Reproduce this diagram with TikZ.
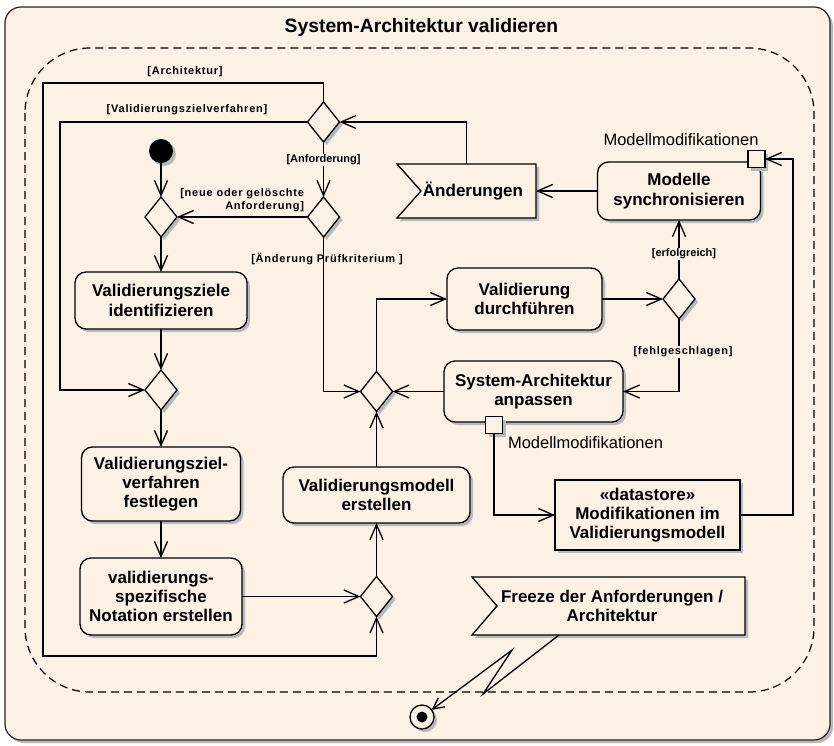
\documentclass[tikz,border=0pt]{standalone}
\usepackage{fontspec}
\setmainfont{Liberation Sans}
\usetikzlibrary{shapes.geometric,arrows.meta,shadows,calc}
\definecolor{bgc}{RGB}{251,241,228}
\definecolor{shadowgray}{RGB}{185,185,185}
\begin{document}
\begin{tikzpicture}[x=1pt,y=-1pt,
  every node/.style={inner sep=0pt,outer sep=0pt},
  shd/.style={drop shadow={shadow xshift=3pt,shadow yshift=-3pt,fill=shadowgray,opacity=1}},
  ln/.style={line width=1.3pt,draw=black},
  flow/.style={ln,-{Straight Barb[length=15pt,width=13pt,line width=1.3pt]}},
  boldtext/.style={font=\fontsize{17}{19.3}\selectfont\bfseries,align=center},
  action/.style={ln,fill=bgc,rounded corners=11pt,shd,boldtext},
  decision/.style={ln,fill=bgc,diamond,minimum width=32pt,minimum height=40pt,shd},
  guard/.style={font=\fontsize{11}{13.5}\selectfont\bfseries,fill=bgc,inner sep=1pt},
  guardsp/.style={font=\fontsize{11}{13.5}\selectfont\bfseries\addfontfeatures{LetterSpace=7},fill=bgc,inner sep=1pt},
  pinbox/.style={ln,fill=bgc,minimum size=17pt,shd},
  pinlabel/.style={font=\fontsize{16.5}{19}\selectfont},
]
\useasboundingbox (0,0) rectangle (834,745);

% activity frame and interruptible region
\draw[line width=1.2pt,draw=black!85,fill=bgc,rounded corners=16pt,shd] (5,7) rectangle (830,740);
\node[font=\fontsize{19.3}{22}\selectfont\bfseries] (title) at (421.5,28) {System-Architektur validieren};
\draw[line width=1.2pt,dash pattern=on 8pt off 5pt,rounded corners=65pt] (25,48) rectangle (814,692);

% initial and final nodes
\node[circle,fill=black,minimum size=24pt,shd] (init) at (161,151) {};
\node[circle,ln,fill=bgc,minimum size=24pt,shd] (fin) at (422,717) {};
\fill (fin.center) circle (5.5pt);

% decisions / merges
\node[decision] (d1) at (161,217) {};
\node[decision] (d2) at (323.5,217) {};
\node[decision] (d3) at (323.5,122) {};
\node[decision] (d4) at (161,390) {};
\node[decision] (d5) at (376.5,391.5) {};
\node[decision] (d6) at (679,299) {};
\node[decision] (d7) at (376.5,596.5) {};

% actions
\node[action,minimum width=172pt,minimum height=57pt] (a1) at (161,300.5) {Validierungsziele\\identifizieren};
\node[action,minimum width=159pt,minimum height=74pt] (a2) at (161,484) {Validierungsziel-\\verfahren\\festlegen};
\node[action,minimum width=162pt,minimum height=77pt] (a3) at (161,596.5) {validierungs-\\spezifische\\Notation erstellen};
\node[action,minimum width=187pt,minimum height=56pt] (a4) at (376.5,495) {Validierungsmodell\\erstellen};
\node[action,minimum width=155pt,minimum height=62pt] (a5) at (524.5,299) {Validierung\\durchführen};
\node[action,minimum width=163pt,minimum height=58pt] (a6) at (679,191) {Modelle\\synchronisieren};
\node[action,minimum width=179pt,minimum height=61pt] (a7) at (533.5,391.5) {System-Architektur\\anpassen};

% pins
\node[pinbox] (pin1) at (756.5,159) {};
\node[pinbox] (pin2) at (494,425) {};
\node[pinlabel] (pl1) at (681,140) {Modellmodifikationen};
\node[pinlabel,anchor=west] (pl2) at (508,443) {Modellmodifikationen};

% data store
\node[ln,fill=bgc,shd,boldtext,minimum width=185pt,minimum height=70pt] (ds) at (647.5,515)
  {«datastore»\\Modifikationen im\\Validierungsmodell};

% accept event: Änderungen
\node[minimum width=139pt,minimum height=54pt] (chg) at (466.5,191) {};
\filldraw[ln,fill=bgc,shd] (chg.north west) -- (chg.north east) -- (chg.south east)
  -- (chg.south west) -- ($(chg.west)+(24,0)$) -- cycle;
\node[boldtext] (chgtxt) at (473,191) {Änderungen};

% accept event: Freeze
\node[minimum width=273pt,minimum height=58pt] (frz) at (608.5,606) {};
\filldraw[ln,fill=bgc,shd] (frz.north west) -- (frz.north east) -- (frz.south east)
  -- (frz.south west) -- ($(frz.west)+(25,0)$) -- cycle;
\node[boldtext] (frztxt) at (612,606) {Freeze der Anforderungen /\\Architektur};

% helper points for routed flows
\coordinate (vz) at (60,122);
\coordinate (arT) at (43,83);
\coordinate (arB) at (43,656);
\coordinate (dsR) at (793,515);
\coordinate (lz0) at (559,635);
\coordinate (lz1) at (483,694);
\coordinate (lz2) at (512,650);

% control flows
\draw[flow] (init) -- (d1.north);
\draw[flow] (d1.south) -- (a1.north);
\draw[flow] (a1.south) -- (d4.north);
\draw[flow] (d4.south) -- (a2.north);
\draw[flow] (a2.south) -- (a3.north);
\draw[flow] (a3.east) -- (d7.west);
\draw[flow] (d7.north) -- (a4.south);
\draw[flow] (a4.north) -- (d5.south);
\draw[flow] (d5.north) |- (a5.west);
\draw[flow] (a5.east) -- (d6.west);
\draw[flow] (d6.north) -- (a6.south);
\draw[flow] (d6.south) |- (a7.east);
\draw[flow] (a7.west) -- (d5.east);
\draw[flow] (a6.west) -- (chg.east);
\draw[flow] (chg.north) |- (d3.east);
\draw[flow] (d3.south) -- (d2.north);
\draw[flow] (d2.west) -- (d1.east);
\draw[flow] (d2.south) |- (d5.west);
\draw[flow] (d3.west) -- (vz) |- (d4.west);
\draw[flow] (d3.north) |- (arT) -- (arB) -| (d7.south);

% object flows
\draw[flow] (pin2.south) |- (ds.west);
\draw[flow] (ds.east) -- (dsR) |- (pin1.east);

% interrupting edge
\draw[ln,-{Straight Barb[length=11pt,width=11pt,line width=1.3pt]}] (lz0) -- (lz1) -- (lz2) -- (fin);

% guards
\node[guardsp] (g1) at (185,72) {[Architektur]};
\node[guardsp] (g2) at (187,110) {[Validierungszielverfahren]};
\node[guard] (g3) at (323.5,160) {[Anforderung]};
\node[guardsp,anchor=east,align=right,fill=none] (g4) at (305,200) {[neue oder gelöschte\\Anforderung]};
\node[guardsp,fill=none] (g5) at (327,259) {[Änderung Prüfkriterium ]};
\node[guard] (g6) at (684,254) {[erfolgreich]};
\node[guardsp] (g7) at (683,352) {[fehlgeschlagen]};
\end{tikzpicture}
\end{document}
